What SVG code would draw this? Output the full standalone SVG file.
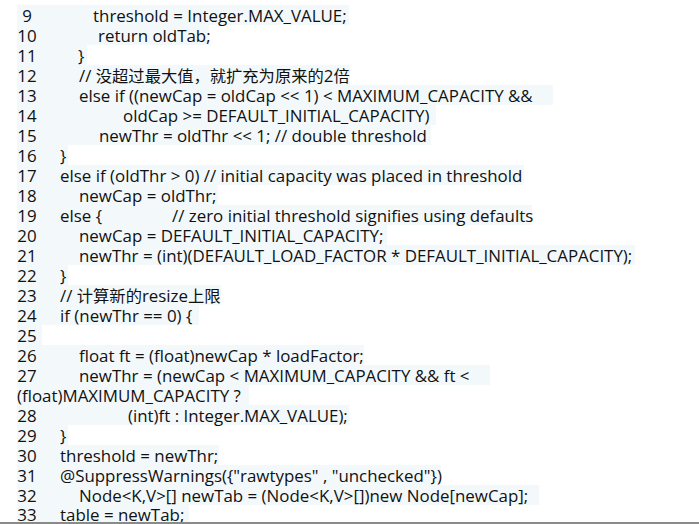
<svg xmlns="http://www.w3.org/2000/svg" width="699" height="524" viewBox="0 0 699 524">
<style>
.hl{fill:#f3f9fb}
.t{font-family:"Open Sans","Noto Sans CJK SC",sans-serif;font-size:16.9px;fill:#111}
.cj{font-size:16.3px}
.n{text-anchor:middle}
</style>
<rect width="699" height="524" fill="#ffffff"/>
<g id="highlights">
<rect class="hl" x="17" y="5" width="332" height="20"/>
<rect class="hl" x="17" y="25" width="192" height="20"/>
<rect class="hl" x="17" y="45" width="70" height="20"/>
<rect class="hl" x="17" y="65" width="333" height="20"/>
<rect class="hl" x="17" y="85" width="536" height="20"/>
<rect class="hl" x="17" y="105" width="419" height="20"/>
<rect class="hl" x="17" y="125" width="414" height="20"/>
<rect class="hl" x="17" y="145" width="51" height="20"/>
<rect class="hl" x="17" y="165" width="507" height="20"/>
<rect class="hl" x="17" y="185" width="201" height="20"/>
<rect class="hl" x="17" y="205" width="515" height="20"/>
<rect class="hl" x="17" y="225" width="370" height="20"/>
<rect class="hl" x="17" y="245" width="618" height="20"/>
<rect class="hl" x="17" y="265" width="51" height="20"/>
<rect class="hl" x="17" y="285" width="204" height="20"/>
<rect class="hl" x="17" y="305" width="182" height="20"/>
<rect class="hl" x="17" y="325" width="25" height="20"/>
<rect class="hl" x="17" y="345" width="347" height="20"/>
<rect class="hl" x="17" y="365" width="473" height="20"/>
<rect class="hl" x="17" y="385" width="232" height="20"/>
<rect class="hl" x="17" y="405" width="332" height="20"/>
<rect class="hl" x="17" y="425" width="51" height="20"/>
<rect class="hl" x="17" y="445" width="202" height="20"/>
<rect class="hl" x="17" y="465" width="424" height="20"/>
<rect class="hl" x="17" y="485" width="522" height="20"/>
<rect class="hl" x="17" y="505" width="172" height="17"/>
</g>
<g id="line-numbers" class="t n">
<text x="27" y="22">9</text>
<text x="27" y="42">10</text>
<text x="27" y="62">11</text>
<text x="27" y="82">12</text>
<text x="27" y="102">13</text>
<text x="27" y="122">14</text>
<text x="27" y="142">15</text>
<text x="27" y="162">16</text>
<text x="27" y="182">17</text>
<text x="27" y="202">18</text>
<text x="27" y="222">19</text>
<text x="27" y="242">20</text>
<text x="27" y="262">21</text>
<text x="27" y="282">22</text>
<text x="27" y="302">23</text>
<text x="27" y="322">24</text>
<text x="27" y="342">25</text>
<text x="27" y="362">26</text>
<text x="27" y="382">27</text>
<text x="27" y="422">28</text>
<text x="27" y="442">29</text>
<text x="27" y="462">30</text>
<text x="27" y="482">31</text>
<text x="27" y="502">32</text>
<text x="27" y="521">33</text>
</g>
<g id="code" class="t">
<text x="93" y="22">threshold = Integer.MAX_VALUE;</text>
<text x="98" y="42">return oldTab;</text>
<text x="78" y="62">}</text>
<text x="79" y="82">// <tspan class="cj">没超过最大值，就扩充为原来的</tspan>2<tspan class="cj">倍</tspan></text>
<text x="79" y="102">else if ((newCap = oldCap &lt;&lt; 1) &lt; MAXIMUM_CAPACITY &amp;&amp;</text>
<text x="123" y="122">oldCap &gt;= DEFAULT_INITIAL_CAPACITY)</text>
<text x="99" y="142">newThr = oldThr &lt;&lt; 1; // double threshold</text>
<text x="60" y="162">}</text>
<text x="60" y="182">else if (oldThr &gt; 0) // initial capacity was placed in threshold</text>
<text x="79" y="202">newCap = oldThr;</text>
<text x="60" y="222">else {</text>
<text x="172" y="222">// zero initial threshold signifies using defaults</text>
<text x="79" y="242">newCap = DEFAULT_INITIAL_CAPACITY;</text>
<text x="79" y="262">newThr = (int)(DEFAULT_LOAD_FACTOR * DEFAULT_INITIAL_CAPACITY);</text>
<text x="60" y="282">}</text>
<text x="60" y="302">// <tspan class="cj">计算新的</tspan>resize<tspan class="cj">上限</tspan></text>
<text x="60" y="322">if (newThr == 0) {</text>
<text x="79" y="362">float ft = (float)newCap * loadFactor;</text>
<text x="79" y="382">newThr = (newCap &lt; MAXIMUM_CAPACITY &amp;&amp; ft &lt;</text>
<text x="17" y="402">(float)MAXIMUM_CAPACITY ?</text>
<text x="128" y="422">(int)ft : Integer.MAX_VALUE);</text>
<text x="60" y="442">}</text>
<text x="60" y="462">threshold = newThr;</text>
<text x="60" y="482">@SuppressWarnings({"rawtypes" , "unchecked"})</text>
<text x="79" y="502">Node&lt;K,V&gt;[] newTab = (Node&lt;K,V&gt;[])new Node[newCap];</text>
<text x="60" y="521">table = newTab;</text>
</g>
<rect x="0" y="522" width="699" height="2" fill="#8a8a8a"/>
</svg>
